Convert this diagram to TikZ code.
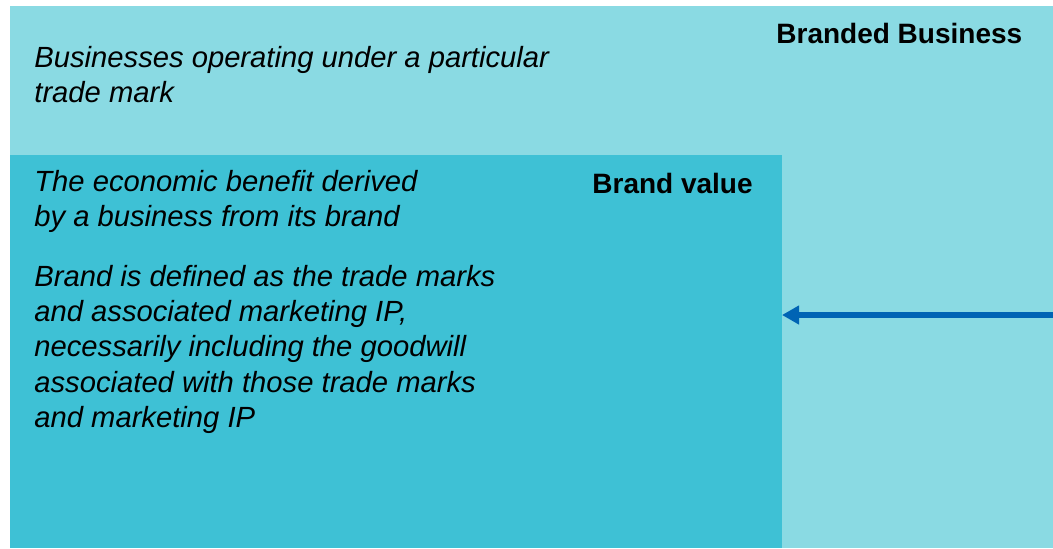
\documentclass[tikz,border=0pt]{standalone}
\usepackage{fontspec}
\setmainfont{Liberation Sans}
\usetikzlibrary{arrows.meta, positioning}
\definecolor{BrandCyanL}{HTML}{8ADAE3}
\definecolor{BrandCyanD}{HTML}{3EC1D5}
\definecolor{BrandBlue}{HTML}{0064B4}

\begin{document}
\begin{tikzpicture}[x=0.5pt, y=-0.5pt,
  txt/.style={anchor=north west, inner sep=0pt, align=left, font=\fontsize{14.6}{17.6}\selectfont\itshape},
  ttl/.style={anchor=north west, inner sep=0pt, font=\fontsize{14}{17.5}\selectfont\bfseries}]
  \useasboundingbox (0,0) rectangle (1053,548);
  % corners of the two boxes
  \coordinate (BBnw) at (10,6);
  \coordinate (BBse) at (1053,548);
  \coordinate (BVnw) at (10,155);
  \coordinate (BVse) at (782,548);

  % outer box: branded business
  \fill[BrandCyanL] (BBnw) rectangle (BBse);
  \node[ttl] (BBtitle) at (776,23) {Branded Business};
  \node[txt] (BBtext) at (34,46) {Businesses operating under a particular\\trade mark};

  % inner box: brand value
  \fill[BrandCyanD] (BVnw) rectangle (BVse);
  \node[ttl] (BVtitle) at (592,173) {Brand value};
  \node[txt] (BVtext) at (34,170) {The economic benefit derived\\by a business from its brand};
  \node[txt] (BVdef) at (34,265) {Brand is defined as the trade marks\\and associated marketing IP,\\necessarily including the goodwill\\associated with those trade marks\\and marketing IP};

  % arrow from the right edge onto the brand value box
  \coordinate (arrS) at (1053,315);
  \draw[draw=BrandBlue, line width=2.6pt, -{Triangle[length=8.5pt, width=9pt]}] (arrS) -- (arrS -| BVse);
\end{tikzpicture}
\end{document}
